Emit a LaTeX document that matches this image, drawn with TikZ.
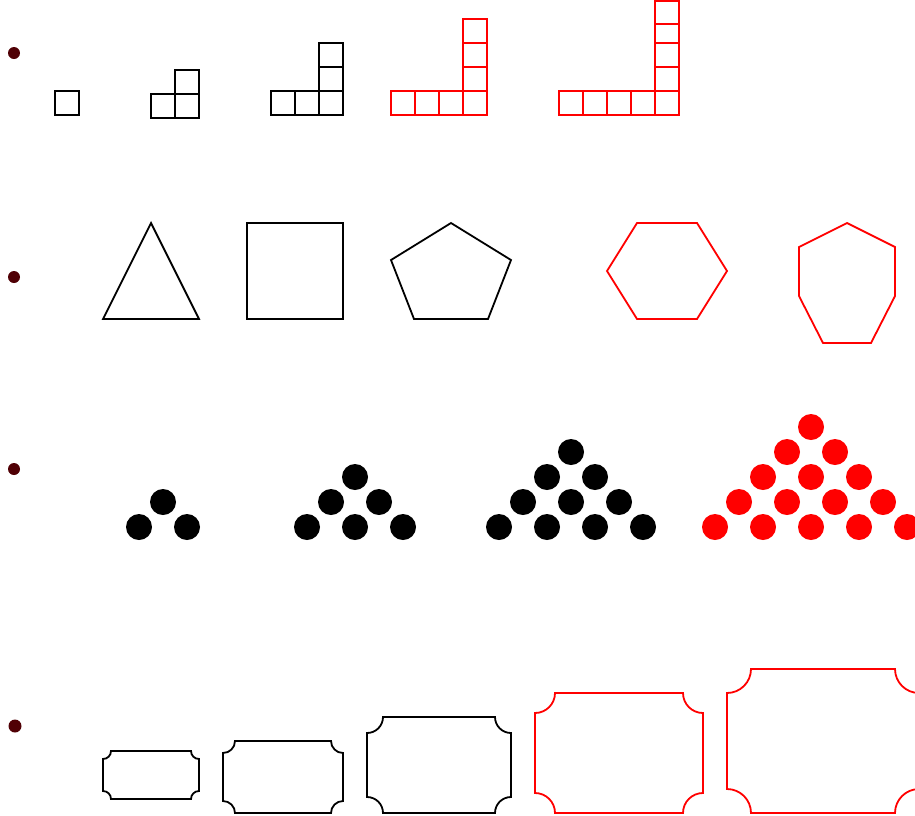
\documentclass[tikz,border=0pt]{standalone}
\usepackage{tikz}
\definecolor{bulletred}{RGB}{80,0,5}
\newcommand{\scooprect}[6]{%
  \draw[#1] ({#2+#6},#3) -- ({#4-#6},#3)
    .. controls ({#4-#6},{#3+0.5523*#6}) and ({#4-0.5523*#6},{#3+#6}) .. (#4,{#3+#6})
    -- (#4,{#5-#6})
    .. controls ({#4-0.5523*#6},{#5-#6}) and ({#4-#6},{#5-0.5523*#6}) .. ({#4-#6},#5)
    -- ({#2+#6},#5)
    .. controls ({#2+#6},{#5-0.5523*#6}) and ({#2+0.5523*#6},{#5-#6}) .. (#2,{#5-#6})
    -- (#2,{#3+#6})
    .. controls ({#2+0.5523*#6},{#3+#6}) and ({#2+#6},{#3+0.5523*#6}) .. ({#2+#6},#3) -- cycle;}
\begin{document}
\begin{tikzpicture}[x=1pt,y=-1pt,
  blk/.style={draw=black,line width=1.8pt},
  rd/.style={draw=red,line width=1.8pt},
  dotb/.style={fill=black},
  dotr/.style={fill=red},
  bulletdot/.style={fill=bulletred}]
\useasboundingbox (0,0) rectangle (915,815);

% bullets
\foreach \bx/\by/\br in {14/53/6,14/277/6,14/469/6,15/726/6.5}
  \fill[bulletdot] (\bx,\by) circle (\br);

% row 1: L-shaped square figures
\draw[blk] (55,91) rectangle (79,115);
\draw[blk] (151,94) rectangle (175,118);
\draw[blk] (175,94) rectangle (199,118);
\draw[blk] (175,70) rectangle (199,94);
\foreach \xx in {271,295,319} \draw[blk] (\xx,91) rectangle ({\xx+24},115);
\foreach \yy in {43,67} \draw[blk] (319,\yy) rectangle (343,{\yy+24});
\foreach \xx in {391,415,439,463} \draw[rd] (\xx,91) rectangle ({\xx+24},115);
\foreach \yy in {19,43,67} \draw[rd] (463,\yy) rectangle (487,{\yy+24});
\foreach \xx in {559,583,607,631,655} \draw[rd] (\xx,91) rectangle ({\xx+24},115);
\draw[rd] (655,1) rectangle (679,91);
\foreach \yy in {24,43,67} \draw[rd] (655,\yy) -- (679,\yy);

% row 2: polygons
\draw[blk] (103,319) -- (199,319) -- (151,223) -- cycle;
\draw[blk] (247,223) rectangle (343,319);
\draw[blk] (451,223) -- (511,260) -- (488,319) -- (414,319) -- (391,260) -- cycle;
\draw[rd] (637,223) -- (697,223) -- (727,271) -- (697,319) -- (637,319) -- (607,271) -- cycle;
\draw[rd] (847,223) -- (895,247) -- (895,296) -- (871,343) -- (823,343) -- (799,296) -- (799,247) -- cycle;

% row 3: triangular dot arrays
\foreach \n/\xs/\st in {2/139/dotb,3/307/dotb,4/499/dotb,5/715/dotr}{
  \pgfmathtruncatemacro{\toprow}{\n-1}
  \foreach \k in {0,...,\toprow}{
    \pgfmathtruncatemacro{\lastdot}{\n-1-\k}
    \foreach \j in {0,...,\lastdot}
      \fill[\st] ({\xs+24*\k+48*\j},{527-25*\k}) circle (13);
  }
}

% row 4: scooped rectangles
\scooprect{blk}{103}{751}{199}{799}{8}
\scooprect{blk}{223}{741}{343}{813}{12}
\scooprect{blk}{367}{717}{511}{813}{16}
\scooprect{rd}{535}{693}{703}{813}{20}
\scooprect{rd}{727}{669}{919}{813}{24}
\end{tikzpicture}
\end{document}
